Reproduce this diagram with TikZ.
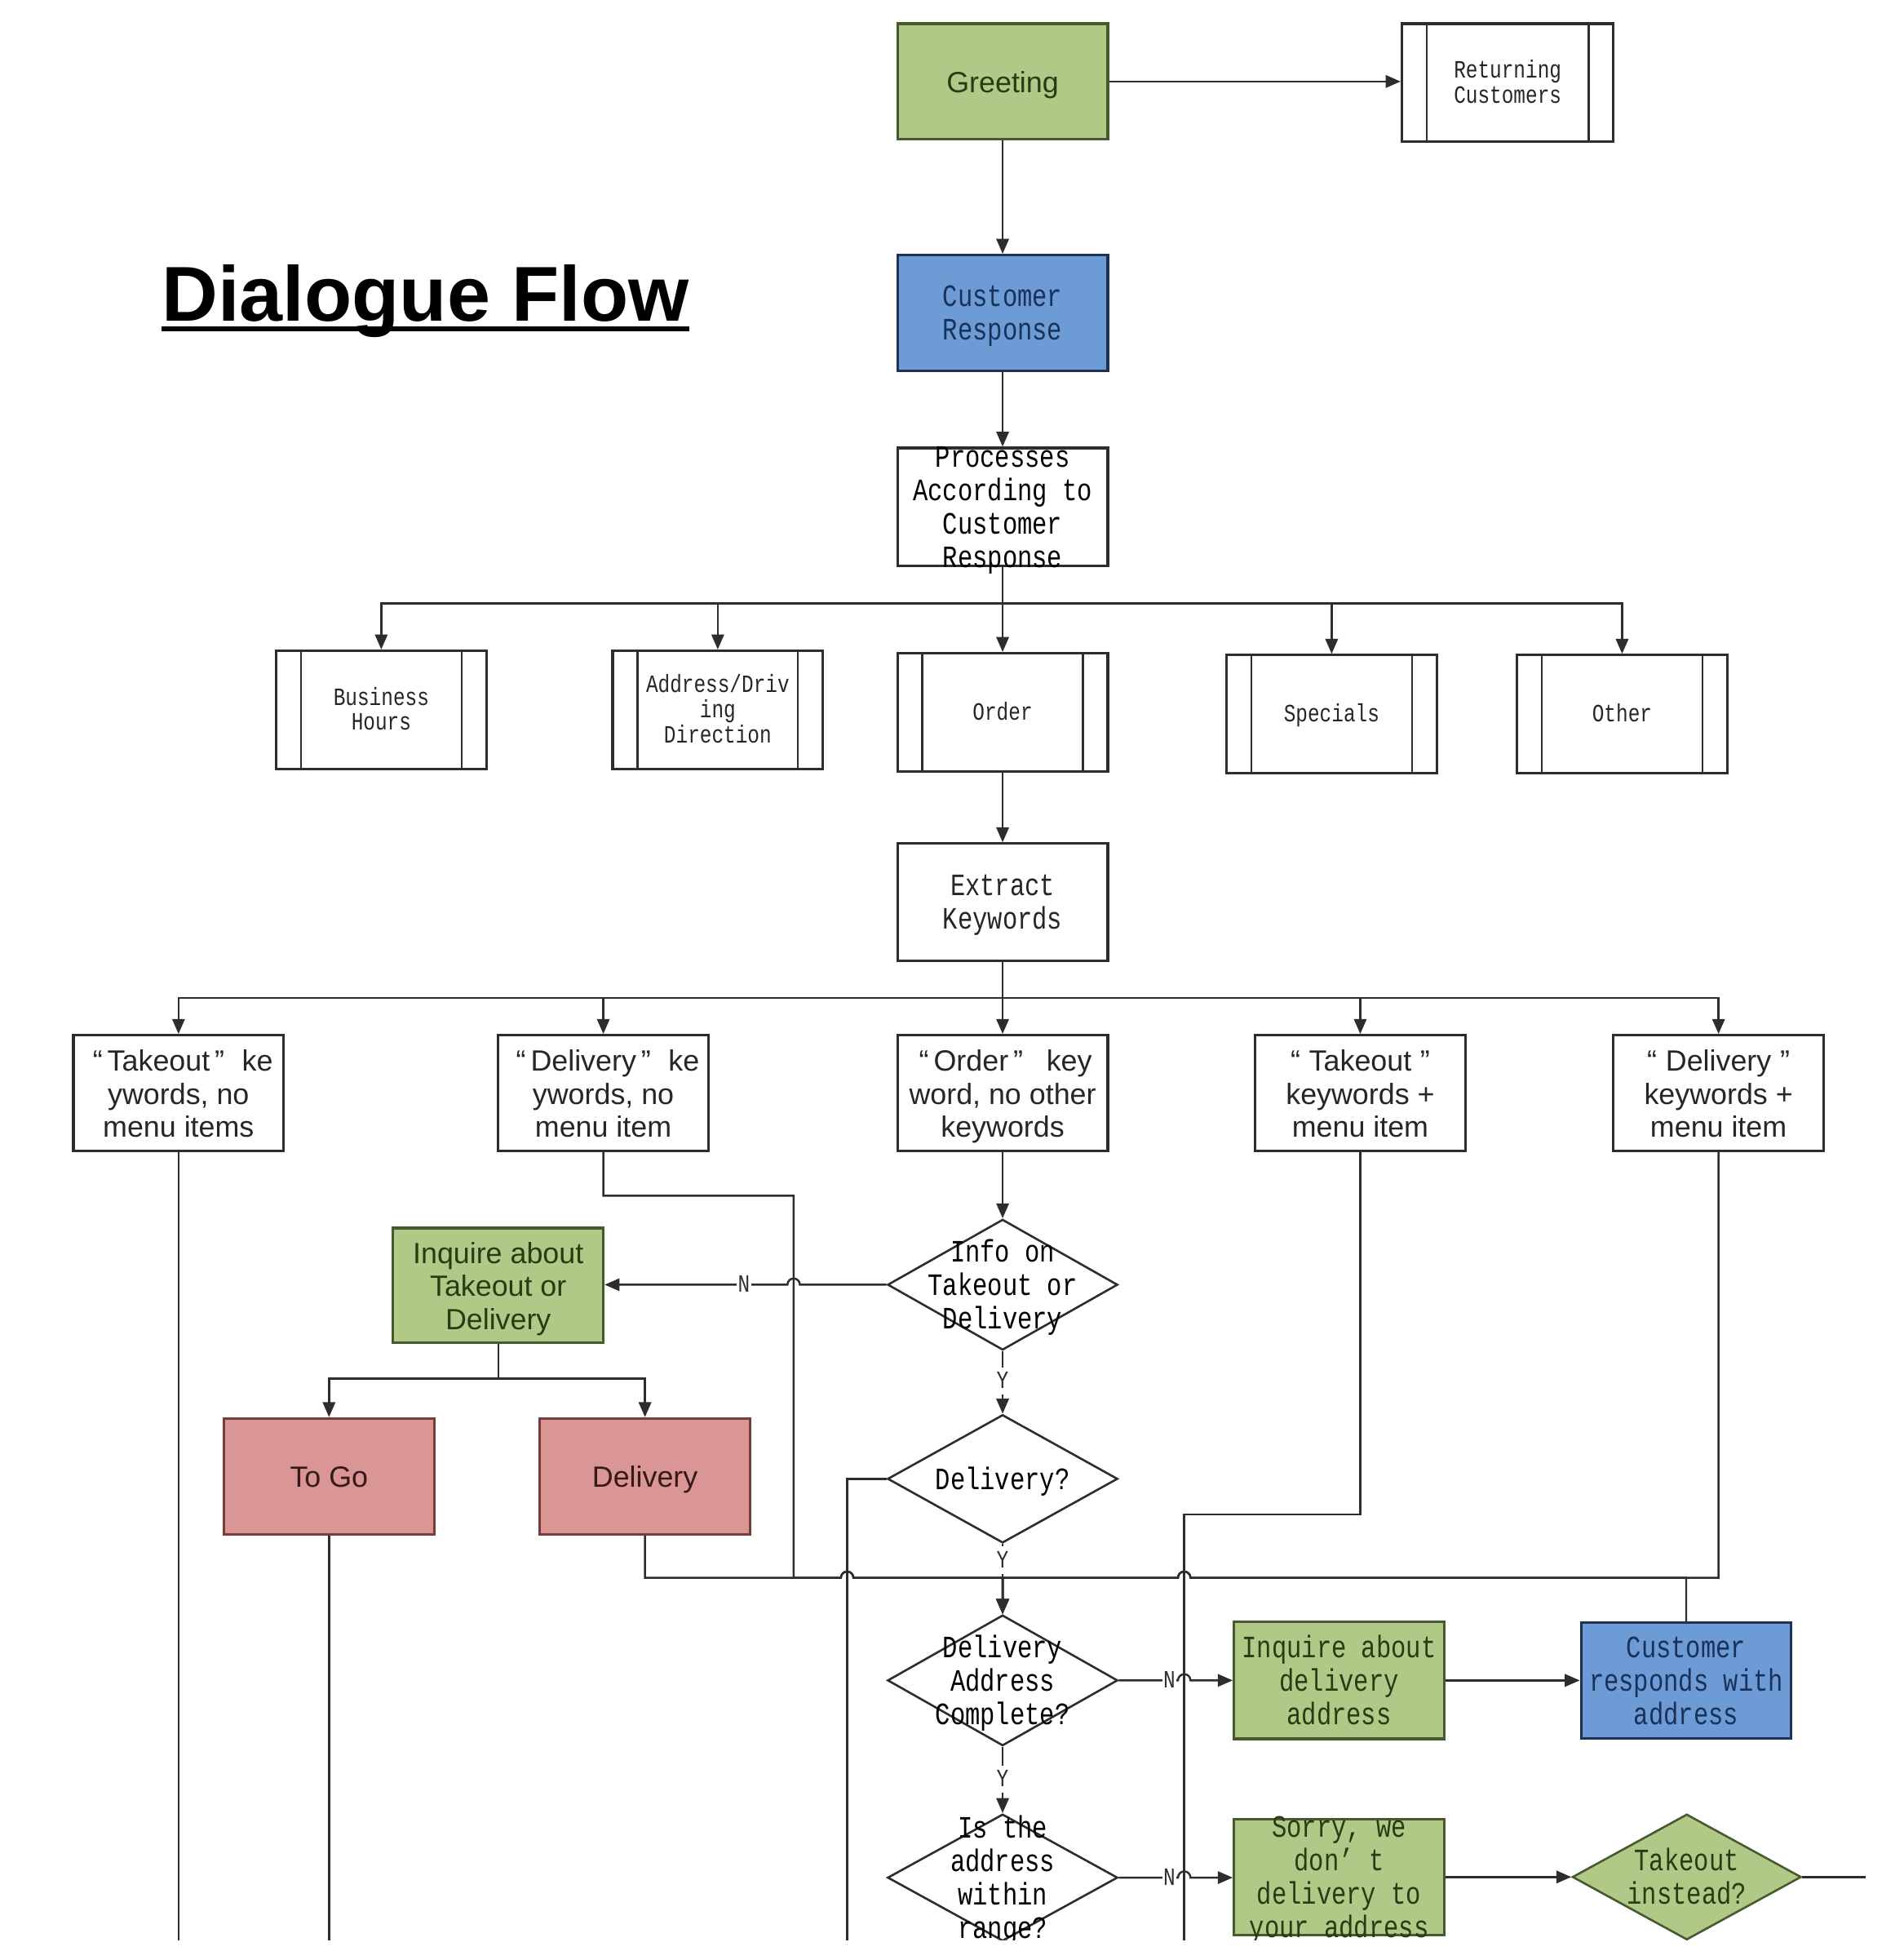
\documentclass[tikz,border=0pt]{standalone}
\usepackage{fontspec}
\usepackage{graphicx}
\usetikzlibrary{arrows.meta,shapes.geometric}
\newfontfamily\monof{Liberation Mono}
\newfontfamily\sansf{Liberation Sans}
\definecolor{gfill}{RGB}{177,201,135}
\definecolor{gline}{RGB}{70,90,45}
\definecolor{gtext}{RGB}{40,60,20}
\definecolor{bfill}{RGB}{108,155,214}
\definecolor{bline}{RGB}{30,50,85}
\definecolor{btext}{RGB}{25,50,90}
\definecolor{rfill}{RGB}{217,150,148}
\definecolor{rline}{RGB}{120,60,58}
\definecolor{rtext}{RGB}{55,25,25}
\definecolor{ln}{RGB}{45,45,45}
\newcommand{\mtx}[1]{{\monof\fontsize{20}{21.5}\selectfont\raisebox{-3pt}[\height][\depth]{\scalebox{1}[1.25]{\begin{tabular}{@{}c@{}}#1\end{tabular}}}}}
\newcommand{\stx}[1]{{\monof\fontsize{16}{16}\selectfont\raisebox{-2pt}[\height][\depth]{\scalebox{1}[1.25]{\begin{tabular}{@{}c@{}}#1\end{tabular}}}}}
\newcommand{\ssx}[1]{{\sansf\fontsize{23.5}{26.5}\selectfont\raisebox{-3.5pt}[\height][\depth]{\begin{tabular}{@{}c@{}}#1\end{tabular}}}}
\begin{document}
\begin{tikzpicture}[x=1pt,y=-1pt,
  box/.style={draw=ln, line width=2.1pt, inner sep=0pt, minimum width=169pt, minimum height=94pt, fill=white, text=black!85},
  gbox/.style={box, fill=gfill, draw=gline, text=gtext},
  bbox/.style={box, fill=bfill, draw=bline, text=btext},
  rbox/.style={box, fill=rfill, draw=rline, text=rtext},
  ppbox/.style={box, path picture={
     \draw[ln, line width=1.6pt] ([xshift=20pt]path picture bounding box.north west) -- ([xshift=20pt]path picture bounding box.south west);
     \draw[ln, line width=1.6pt] ([xshift=-20pt]path picture bounding box.north east) -- ([xshift=-20pt]path picture bounding box.south east);}},
  dia/.style={diamond, draw=ln, line width=1.7pt, inner sep=0pt, minimum width=185pt, minimum height=104pt, fill=white},
  gdia/.style={dia, fill=gfill, draw=gline},
  lbl/.style={fill=white, inner sep=1pt, text=ln},
  arr/.style={draw=ln, line width=1.6pt, -{Triangle[length=12pt,width=10pt]}},
  con/.style={draw=ln, line width=1.6pt}]
\useasboundingbox (0,0) rectangle (1530,1568);
\fill[white] (0,0) rectangle (1530,1568);
\clip (0,0) rectangle (1530,1559);

% title
\node[anchor=base west, inner sep=0pt, font=\sansf\bfseries\fontsize{62.5}{62.5}\selectfont] (title) at (130,258) {Dialogue Flow};
\draw[line width=4pt] ([yshift=-6pt]title.base west) -- ([yshift=-6pt]title.base east);

% top nodes
\node[gbox, minimum height=93pt] (greet) at (806,65.5) {\ssx{Greeting}};
\node[ppbox, minimum width=170pt, minimum height=95pt] (ret) at (1212,66.5) {\stx{Returning\\Customers}};
\node[bbox, minimum height=93pt] (cresp) at (806,251.5) {\mtx{Customer\\Response}};
\node[box, minimum height=95pt, label={center:\mtx{Processes\\According to\\Customer\\Response}}] (proc) at (806,407.5) {};

\node[ppbox, minimum height=95pt] (bh) at (306.5,570.5) {\stx{Business\\Hours}};
\node[ppbox, minimum height=95pt] (addr) at (577,570.5) {\stx{Address/Driv\\ing\\Direction}};
\node[ppbox, minimum height=95pt] (order) at (806,572.5) {\stx{Order}};
\node[ppbox, minimum height=95pt] (spec) at (1070.5,574) {\stx{Specials}};
\node[ppbox, minimum height=95pt] (other) at (1304,574) {\stx{Other}};

\node[box] (ext) at (806,725) {\mtx{Extract\\Keywords}};

\node[box, minimum height=93pt] (k1) at (143.5,878.5) {\ssx{\hspace{0.3em}“\,Takeout\,”\hspace{0.6em}ke\\ywords, no\\menu items}};
\node[box, minimum height=93pt] (k2) at (485,878.5) {\ssx{\hspace{0.3em}“\,Delivery\,”\hspace{0.6em}ke\\ywords, no\\menu item}};
\node[box, minimum height=93pt] (k3) at (806,878.5) {\ssx{\hspace{0.2em}“\,Order\,”\hspace{0.8em}key\\word, no other\\keywords}};
\node[box, minimum height=93pt] (k4) at (1093.5,878.5) {\ssx{“\hspace{0.3em}Takeout\hspace{0.3em}”\\keywords +\\menu item}};
\node[box, minimum height=93pt] (k5) at (1381.5,878.5) {\ssx{“\hspace{0.3em}Delivery\hspace{0.3em}”\\keywords +\\menu item}};

\node[dia, minimum height=105pt, label={center:\mtx{Info on\\Takeout or\\Delivery}}] (d1) at (806,1032.5) {};
\node[gbox, minimum height=92pt] (inq) at (400.5,1033) {\ssx{Inquire about\\Takeout or\\Delivery}};
\node[rbox, minimum height=93pt] (togo) at (264.5,1186.5) {\ssx{To Go}};
\node[rbox, minimum height=93pt] (deliv) at (518.5,1186.5) {\ssx{Delivery}};
\node[dia, minimum height=103pt, label={center:\mtx{Delivery?}}] (d2) at (806,1188.5) {};
\node[dia, minimum height=105pt, label={center:\mtx{Delivery\\Address\\Complete?}}] (d3) at (806,1350.5) {};
\node[gbox] (inqa) at (1076.5,1350.5) {\mtx{Inquire about\\delivery\\address}};
\node[bbox, minimum height=93pt] (cra) at (1355.5,1350.5) {\mtx{Customer\\responds with\\address}};
\node[dia, minimum height=102pt, label={center:\mtx{Is the\\address\\within\\range?}}] (d4) at (806,1509) {};
\node[gbox, minimum height=93pt, label={[text=gtext]center:\mtx{Sorry, we\\don’ t\\delivery to\\your address}}] (sorry) at (1076.5,1508.5) {};
\node[gdia, minimum width=184pt, minimum height=101pt, label={[text=gtext]center:\mtx{Takeout\\instead?}}] (d5) at (1356,1508.5) {};

% connectors
\draw[arr] (greet.east) -- (greet.east -| ret.west);
\draw[arr] (greet.south) -- (cresp.north);
\draw[arr] (cresp.south) -- (proc.north);

\coordinate (b1) at (806,485);
\draw[arr] (proc.south) -- (b1) -| (bh.north);
\draw[arr] (b1) -| (addr.north);
\draw[arr] (b1) -- (order.north);
\draw[arr] (b1) -| (spec.north);
\draw[arr] (b1) -| (other.north);

\draw[arr] (order.south) -- (ext.north);

\coordinate (b2) at (806,802);
\draw[arr] (ext.south) -- (b2) -| (k1.north);
\draw[arr] (b2) -| (k2.north);
\draw[arr] (b2) -- (k3.north);
\draw[arr] (b2) -| (k4.north);
\draw[arr] (b2) -| (k5.north);

\draw[arr] (k3.south) -- (d1.north);
\draw[arr] (d1.west) -- (643,1032.5) arc[start angle=0,end angle=180,radius=5pt] -- (inq.east |- d1.west);

\coordinate (b4) at (400.5,1108);
\draw[arr] (inq.south) -- (b4) -| (togo.north);
\draw[arr] (b4) -| (deliv.north);

\draw[con] (k1.south) -- (143.5,1570);
\draw[con] (togo.south) -- (264.5,1570);

\coordinate (b3) at (806,1268);
\draw[arr] (k2.south) |- (638,961) -- (638,1268) -- (676,1268) arc[start angle=180,end angle=0,radius=5pt] -- (b3) -- (d3.north);
\draw[arr] (deliv.south) |- (676,1268) arc[start angle=180,end angle=0,radius=5pt] -- (b3) -- (d3.north);
\draw[arr] (k5.south) |- (957,1268) arc[start angle=0,end angle=180,radius=5pt] -- (b3) -- (d3.north);
\draw[arr] (cra.north) |- (957,1268) arc[start angle=0,end angle=180,radius=5pt] -- (b3) -- (d3.north);

\draw[arr] (d1.south) -- (d2.north);
\draw[arr] (d2.south) -- (d3.north);
\draw[con] (d2.west) -| (681,1570);
\draw[con] (k4.south) |- (952,1217) -- (952,1570);

\draw[arr] (d3.east) -- (947,1350.5) arc[start angle=180,end angle=0,radius=5pt] -- (inqa.west |- d3.east);
\draw[arr] (inqa.east) -- (cra.west);
\draw[arr] (d3.south) -- (d4.north);
\draw[arr] (d4.east) -- (947,1509) arc[start angle=180,end angle=0,radius=5pt] -- (sorry.west |- d4.east);
\draw[arr] (sorry.east) -- (sorry.east -| d5.west);
\draw[con] (d5.east) -- (1500,1508.5);

% labels
\node[lbl] at (598,1032.5) {\stx{N}};
\node[lbl] at (806,1110) {\stx{Y}};
\node[lbl] at (806,1254) {\stx{Y}};
\node[lbl] at (806,1430) {\stx{Y}};
\node[lbl] at (940,1350.5) {\stx{N}};
\node[lbl] at (940,1509) {\stx{N}};
\end{tikzpicture}
\end{document}
